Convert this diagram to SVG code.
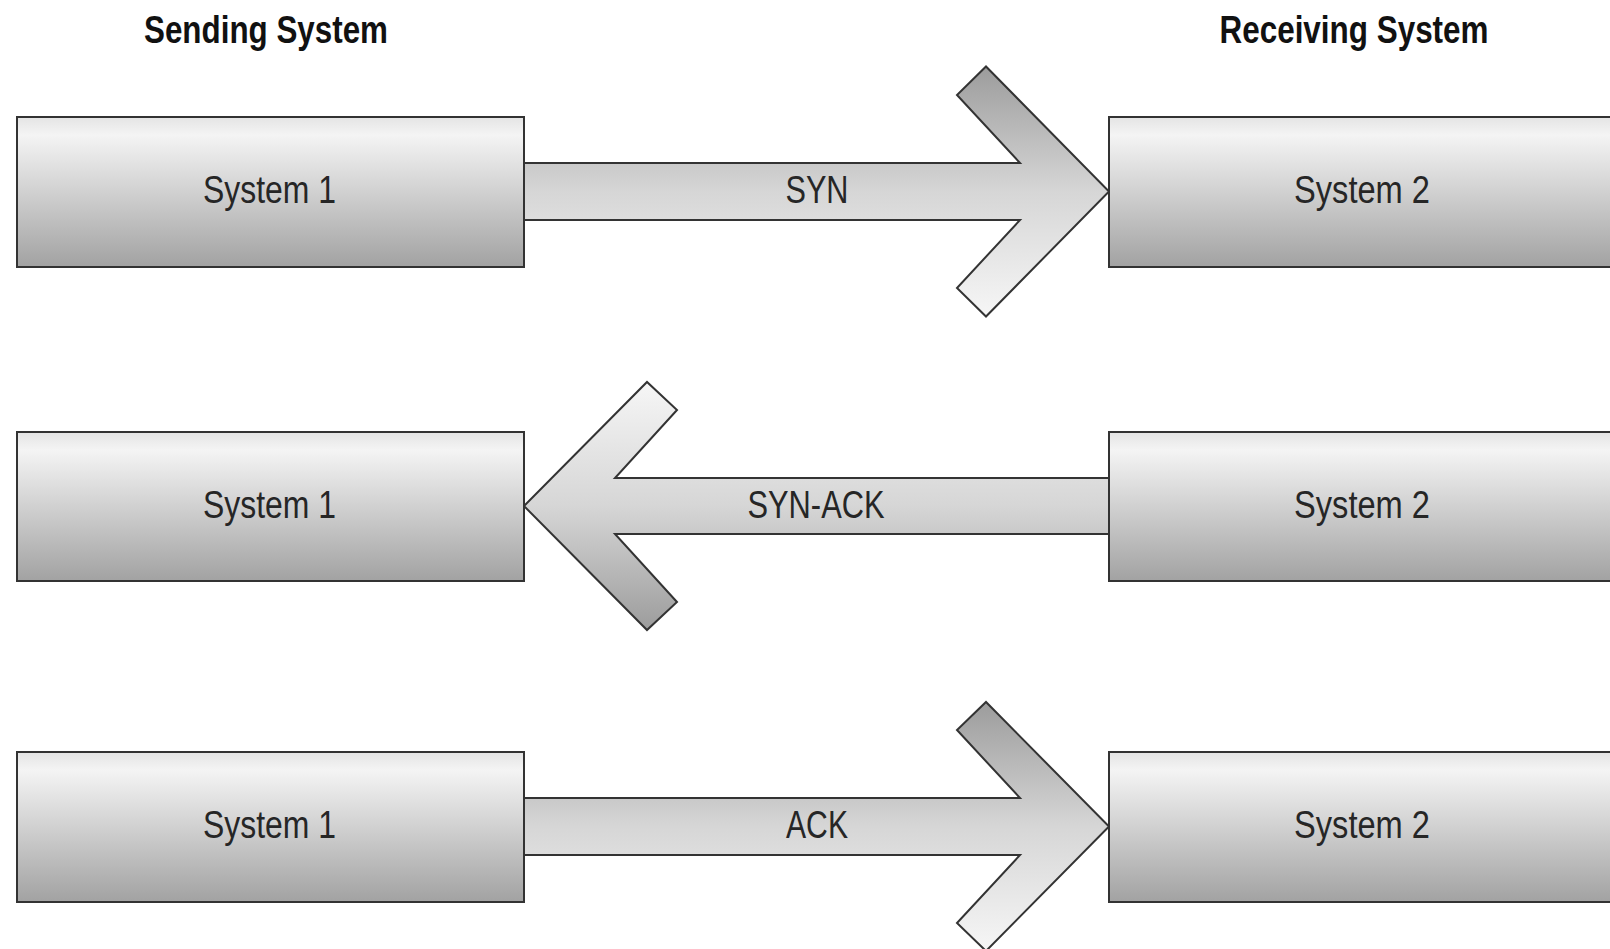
<svg xmlns="http://www.w3.org/2000/svg" width="1610" height="949" viewBox="0 0 1610 949">
<defs>
<linearGradient id="boxg" x1="0" y1="0" x2="0" y2="1">
<stop offset="0" stop-color="#e4e4e4"/>
<stop offset="0.12" stop-color="#f4f4f4"/>
<stop offset="1" stop-color="#a2a2a2"/>
</linearGradient>
<linearGradient id="arrDown" x1="0" y1="0" x2="0" y2="1">
<stop offset="0" stop-color="#9c9c9c"/>
<stop offset="0.5" stop-color="#d6d6d6"/>
<stop offset="1" stop-color="#f6f6f6"/>
</linearGradient>
<linearGradient id="arrUp" x1="0" y1="0" x2="0" y2="1">
<stop offset="0" stop-color="#f6f6f6"/>
<stop offset="0.5" stop-color="#d6d6d6"/>
<stop offset="1" stop-color="#9c9c9c"/>
</linearGradient>
</defs>
<style>
.box{fill:url(#boxg);stroke:#333;stroke-width:2}
.arr{stroke:#333;stroke-width:2;stroke-linejoin:miter}
.lbl{font-family:"Liberation Sans Narrow","Liberation Sans",Arial,sans-serif;font-size:38px;fill:#262626;text-anchor:middle}
.hd{font-family:"Liberation Sans Narrow","Liberation Sans",Arial,sans-serif;font-size:38px;font-weight:bold;fill:#111;text-anchor:middle}
</style>
<rect width="1610" height="949" fill="#ffffff"/>
<g id="headings">
<text class="hd" x="266" y="43" textLength="244" lengthAdjust="spacingAndGlyphs">Sending System</text>
<text class="hd" x="1354" y="43" textLength="269" lengthAdjust="spacingAndGlyphs">Receiving System</text>
</g>
<g id="connectors">
<g id="syn">
<polygon class="arr" fill="url(#arrDown)" points="524,163 1020,163 957,95 986,66.5 1109,191.5 986,316.5 957,288 1020,220 524,220"/>
<text class="lbl" x="817" y="203" textLength="63" lengthAdjust="spacingAndGlyphs">SYN</text>
</g>
<g id="synack">
<polygon class="arr" fill="url(#arrUp)" points="1109,478 615,478 677,410 647,382 524,506 647,630 677,602 615,534 1109,534"/>
<text class="lbl" x="816" y="518" textLength="137" lengthAdjust="spacingAndGlyphs">SYN-ACK</text>
</g>
<g id="ack">
<polygon class="arr" fill="url(#arrDown)" points="524,798 1020,798 957,730 986,702 1109,826.5 986,951 957,923 1020,855 524,855"/>
<text class="lbl" x="817" y="838" textLength="62" lengthAdjust="spacingAndGlyphs">ACK</text>
</g>
</g>
<g id="sys1-row1">
<rect class="box" x="17" y="117" width="507" height="150"/>
<text class="lbl" x="269.5" y="203" textLength="133" lengthAdjust="spacingAndGlyphs">System 1</text>
</g>
<g id="sys2-row1">
<rect class="box" x="1109" y="117" width="510" height="150"/>
<text class="lbl" x="1362" y="203" textLength="136" lengthAdjust="spacingAndGlyphs">System 2</text>
</g>
<g id="sys1-row2">
<rect class="box" x="17" y="432" width="507" height="149"/>
<text class="lbl" x="269.5" y="518" textLength="133" lengthAdjust="spacingAndGlyphs">System 1</text>
</g>
<g id="sys2-row2">
<rect class="box" x="1109" y="432" width="510" height="149"/>
<text class="lbl" x="1362" y="518" textLength="136" lengthAdjust="spacingAndGlyphs">System 2</text>
</g>
<g id="sys1-row3">
<rect class="box" x="17" y="752" width="507" height="150"/>
<text class="lbl" x="269.5" y="838" textLength="133" lengthAdjust="spacingAndGlyphs">System 1</text>
</g>
<g id="sys2-row3">
<rect class="box" x="1109" y="752" width="510" height="150"/>
<text class="lbl" x="1362" y="838" textLength="136" lengthAdjust="spacingAndGlyphs">System 2</text>
</g>
</svg>
